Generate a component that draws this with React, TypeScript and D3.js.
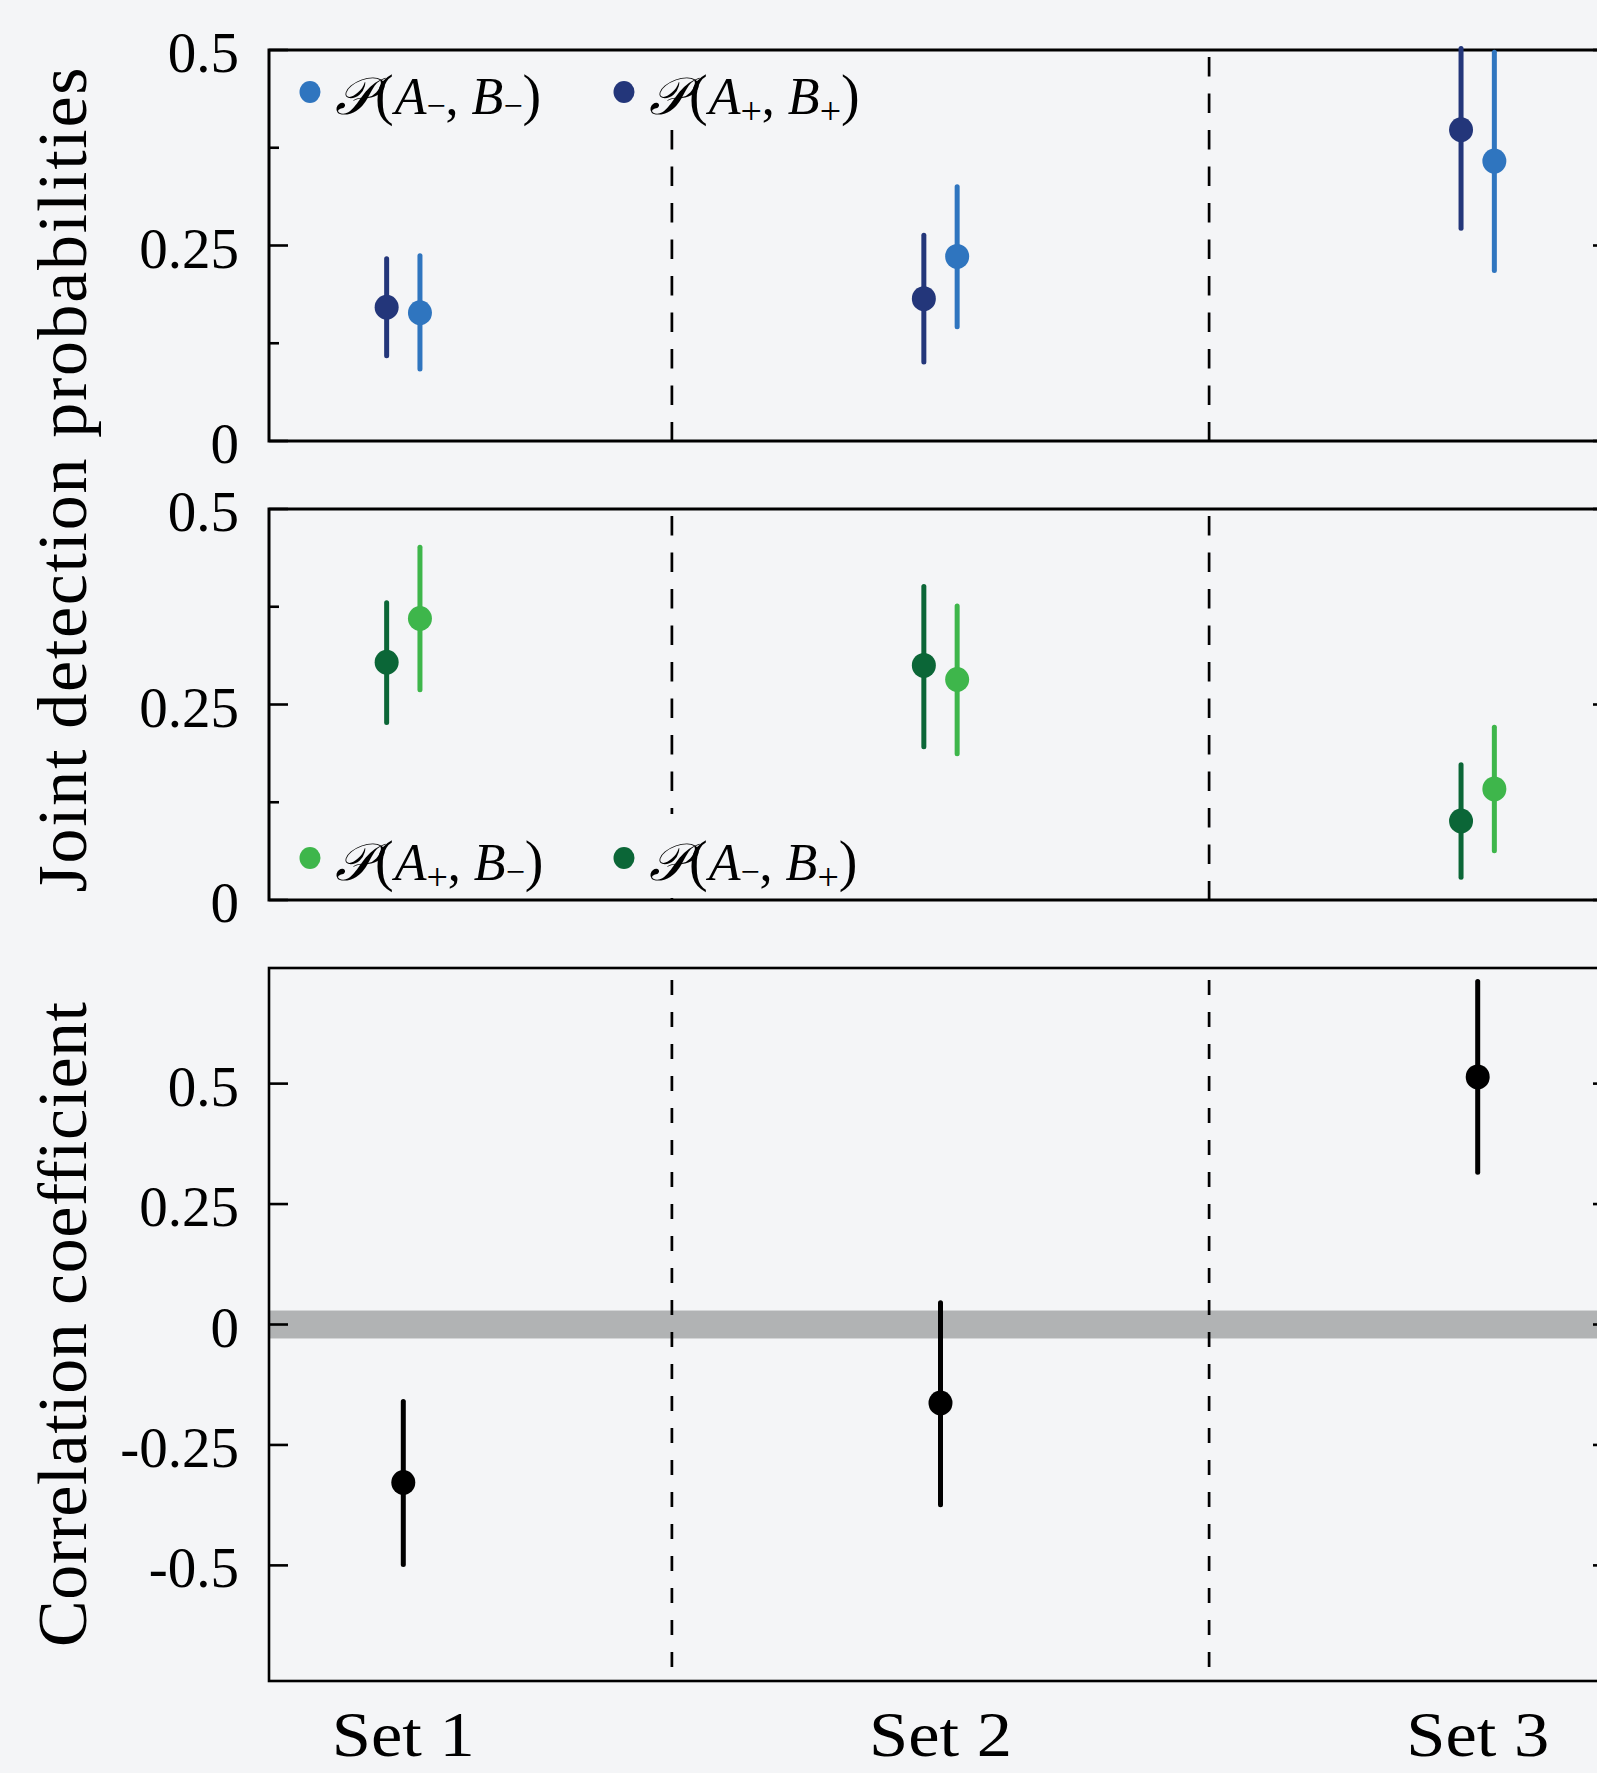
import React from "react";
import * as d3 from "d3";

// ---------- data ----------
const sets = ["Set 1", "Set 2", "Set 3"];
const setPos = [1, 2, 3];

// P(A-,B-) light blue
const pMM = [0.164, 0.236, 0.358];
const pMMlo = [0.092, 0.146, 0.218];
const pMMhi = [0.237, 0.325, 0.497];
// P(A+,B+) navy
const pPP = [0.171, 0.182, 0.398];
const pPPlo = [0.109, 0.101, 0.272];
const pPPhi = [0.233, 0.263, 0.502];
// P(A+,B-) light green
const pPM = [0.36, 0.282, 0.142];
const pPMlo = [0.269, 0.187, 0.063];
const pPMhi = [0.451, 0.376, 0.221];
// P(A-,B+) dark green
const pMP = [0.304, 0.3, 0.101];
const pMPlo = [0.227, 0.196, 0.029];
const pMPhi = [0.38, 0.401, 0.173];
// correlation coefficient
const corr = [-0.328, -0.163, 0.514];
const corrLo = [-0.498, -0.374, 0.316];
const corrHi = [-0.16, 0.045, 0.712];

const probTicks = [0, 0.25, 0.5];
const probTickLabels = ["0", "0.25", "0.5"];
const probMinor = [0.125, 0.375];
const corrTicks = [-0.5, -0.25, 0, 0.25, 0.5];
const corrTickLabels = ["-0.5", "-0.25", "0", "0.25", "0.5"];
const dividers = [1.5, 2.5];
const zeroBand = 0.029;

const BG = "#f4f5f7";
const C_LB = "#2f75bf";
const C_NV = "#23367a";
const C_LG = "#3eb64b";
const C_DG = "#0b6637";

const FONT = "'Liberation Serif', 'DejaVu Serif', serif";

const x = d3.scaleLinear().domain([0.75, 3.25]).range([269, 1612]);
const off = 0.031;

const yTop = d3.scaleLinear().domain([0, 0.5]).range([441, 50]);
const yMid = d3.scaleLinear().domain([0, 0.5]).range([900, 509]);
const yBot = d3.scaleLinear().domain([-0.74, 0.74]).range([1681, 968]);

type Scale = d3.ScaleLinear<number, number>;

function Frame({ y, sw, ticks, minor, labels, dash, dashStart }: { y: Scale; sw: number; ticks: number[]; minor: number[]; labels: string[]; dash: string; dashStart: number }) {
  const [x0, x1] = x.range();
  const [yb, yt] = y.range();
  return (
    <g>
      {dividers.map((d, i) => (
        <line key={"d" + i} x1={x(d)} x2={x(d)} y1={yt + dashStart} y2={yb} stroke="#000" strokeWidth={2.7} strokeDasharray={dash} />
      ))}
      <rect x={x0} y={yt} width={x1 - x0} height={yb - yt} fill="none" stroke="#000" strokeWidth={sw} />
      {ticks.map((t, i) => (
        <g key={"t" + i}>
          <line x1={x0} x2={x0 + 19} y1={y(t)} y2={y(t)} stroke="#000" strokeWidth={2.6} />
          <line x1={x1} x2={x1 - 19} y1={y(t)} y2={y(t)} stroke="#000" strokeWidth={2.6} />
          <text x={239} y={y(t) + 22} textAnchor="end" fontFamily={FONT} fontSize={57} fill="#000">
            {labels[i]}
          </text>
        </g>
      ))}
      {minor.map((t, i) => (
        <g key={"m" + i}>
          <line x1={x0} x2={x0 + 10} y1={y(t)} y2={y(t)} stroke="#000" strokeWidth={2.6} />
          <line x1={x1} x2={x1 - 10} y1={y(t)} y2={y(t)} stroke="#000" strokeWidth={2.6} />
        </g>
      ))}
    </g>
  );
}

function Series({ y, v, lo, hi, dx, color, r = 12, w = 5 }: { y: Scale; v: number[]; lo: number[]; hi: number[]; dx: number; color: string; r?: number; w?: number }) {
  return (
    <g>
      {v.map((val, i) => (
        <g key={i}>
          <line x1={x(setPos[i] + dx)} x2={x(setPos[i] + dx)} y1={y(lo[i])} y2={y(hi[i])} stroke={color} strokeWidth={w} strokeLinecap="round" />
          <ellipse cx={x(setPos[i] + dx)} cy={y(val)} rx={r} ry={r + 0.5} fill={color} />
        </g>
      ))}
    </g>
  );
}

function LegendItem({ cx, cy, color, a, b }: { cx: number; cy: number; color: string; a: string; b: string }) {
  const fs = 52;
  const subSize = (s: string) => (s === "+" ? 38 : 34);
  const subDy = (s: string) => (s === "+" ? 10 : 3);
  return (
    <g>
      <ellipse cx={cx} cy={cy} rx={10.5} ry={11} fill={color} />
      <text x={cx + 25} y={cy + 22} fontFamily={FONT} fontSize={fs} fill="#000">
        <tspan fontStyle="italic" fontFamily="'DejaVu Serif', serif">𝒫</tspan>
        <tspan dx={3} fontSize={fs + 4}>(</tspan>
        <tspan dx={1} fontStyle="italic">A</tspan>
        <tspan fontSize={subSize(a)} dy={subDy(a)}>{a === "+" ? "+" : "−"}</tspan>
        <tspan dy={-subDy(a)}>, </tspan>
        <tspan fontStyle="italic">B</tspan>
        <tspan fontSize={subSize(b)} dy={subDy(b)}>{b === "+" ? "+" : "−"}</tspan>
        <tspan dy={-subDy(b)} fontSize={fs + 4}>)</tspan>
      </text>
    </g>
  );
}

export default function App() {
  return (
    <div style={{ position: "absolute", left: 0, top: 0, width: 1597, height: 1773, overflow: "hidden", background: BG }}>
      <svg width={1597} height={1773} style={{ display: "block" }}>
        <rect x={0} y={0} width={1597} height={1773} fill={BG} />

        {/* top panel */}
        <Frame y={yTop} sw={3} ticks={probTicks} minor={probMinor} labels={probTickLabels} dash="19.5,17" dashStart={7} />
        <rect x={273} y={53} width={620} height={75} fill={BG} />
        <Series y={yTop} v={pPP} lo={pPPlo} hi={pPPhi} dx={-off} color={C_NV} />
        <Series y={yTop} v={pMM} lo={pMMlo} hi={pMMhi} dx={off} color={C_LB} />
        <LegendItem cx={310} cy={92} color={C_LB} a="-" b="-" />
        <LegendItem cx={624} cy={92} color={C_NV} a="+" b="+" />

        {/* middle panel */}
        <Frame y={yMid} sw={3} ticks={probTicks} minor={probMinor} labels={probTickLabels} dash="19.5,17" dashStart={7} />
        <rect x={273} y={814} width={620} height={84} fill={BG} />
        <Series y={yMid} v={pMP} lo={pMPlo} hi={pMPhi} dx={-off} color={C_DG} />
        <Series y={yMid} v={pPM} lo={pPMlo} hi={pPMhi} dx={off} color={C_LG} />
        <LegendItem cx={310} cy={858} color={C_LG} a="+" b="-" />
        <LegendItem cx={624} cy={858} color={C_DG} a="-" b="+" />

        {/* bottom panel */}
        <rect x={x.range()[0]} y={yBot(zeroBand)} width={x.range()[1] - x.range()[0]} height={yBot(-zeroBand) - yBot(zeroBand)} fill="#b1b3b4" />
        <Frame y={yBot} sw={2.6} ticks={corrTicks} minor={[]} labels={corrTickLabels} dash="15,17" dashStart={12} />
        <Series y={yBot} v={corr} lo={corrLo} hi={corrHi} dx={0} color="#000" r={12} w={5} />

        {/* x labels */}
        {sets.map((s, i) => (
          <text key={s} x={x(setPos[i])} y={1756} textAnchor="middle" fontFamily={FONT} fontSize={64} textLength={143} lengthAdjust="spacingAndGlyphs" fill="#000">
            {s}
          </text>
        ))}

        {/* y titles */}
        <text transform="translate(86,480) rotate(-90)" textAnchor="middle" fontFamily={FONT} fontSize={70} textLength={825} lengthAdjust="spacing" fill="#000">
          Joint detection probabilities
        </text>
        <text transform={`translate(86,${yBot(0)}) rotate(-90)`} textAnchor="middle" fontFamily={FONT} fontSize={70} textLength={645} lengthAdjust="spacing" fill="#000">
          Correlation coefficient
        </text>
      </svg>
    </div>
  );
}
